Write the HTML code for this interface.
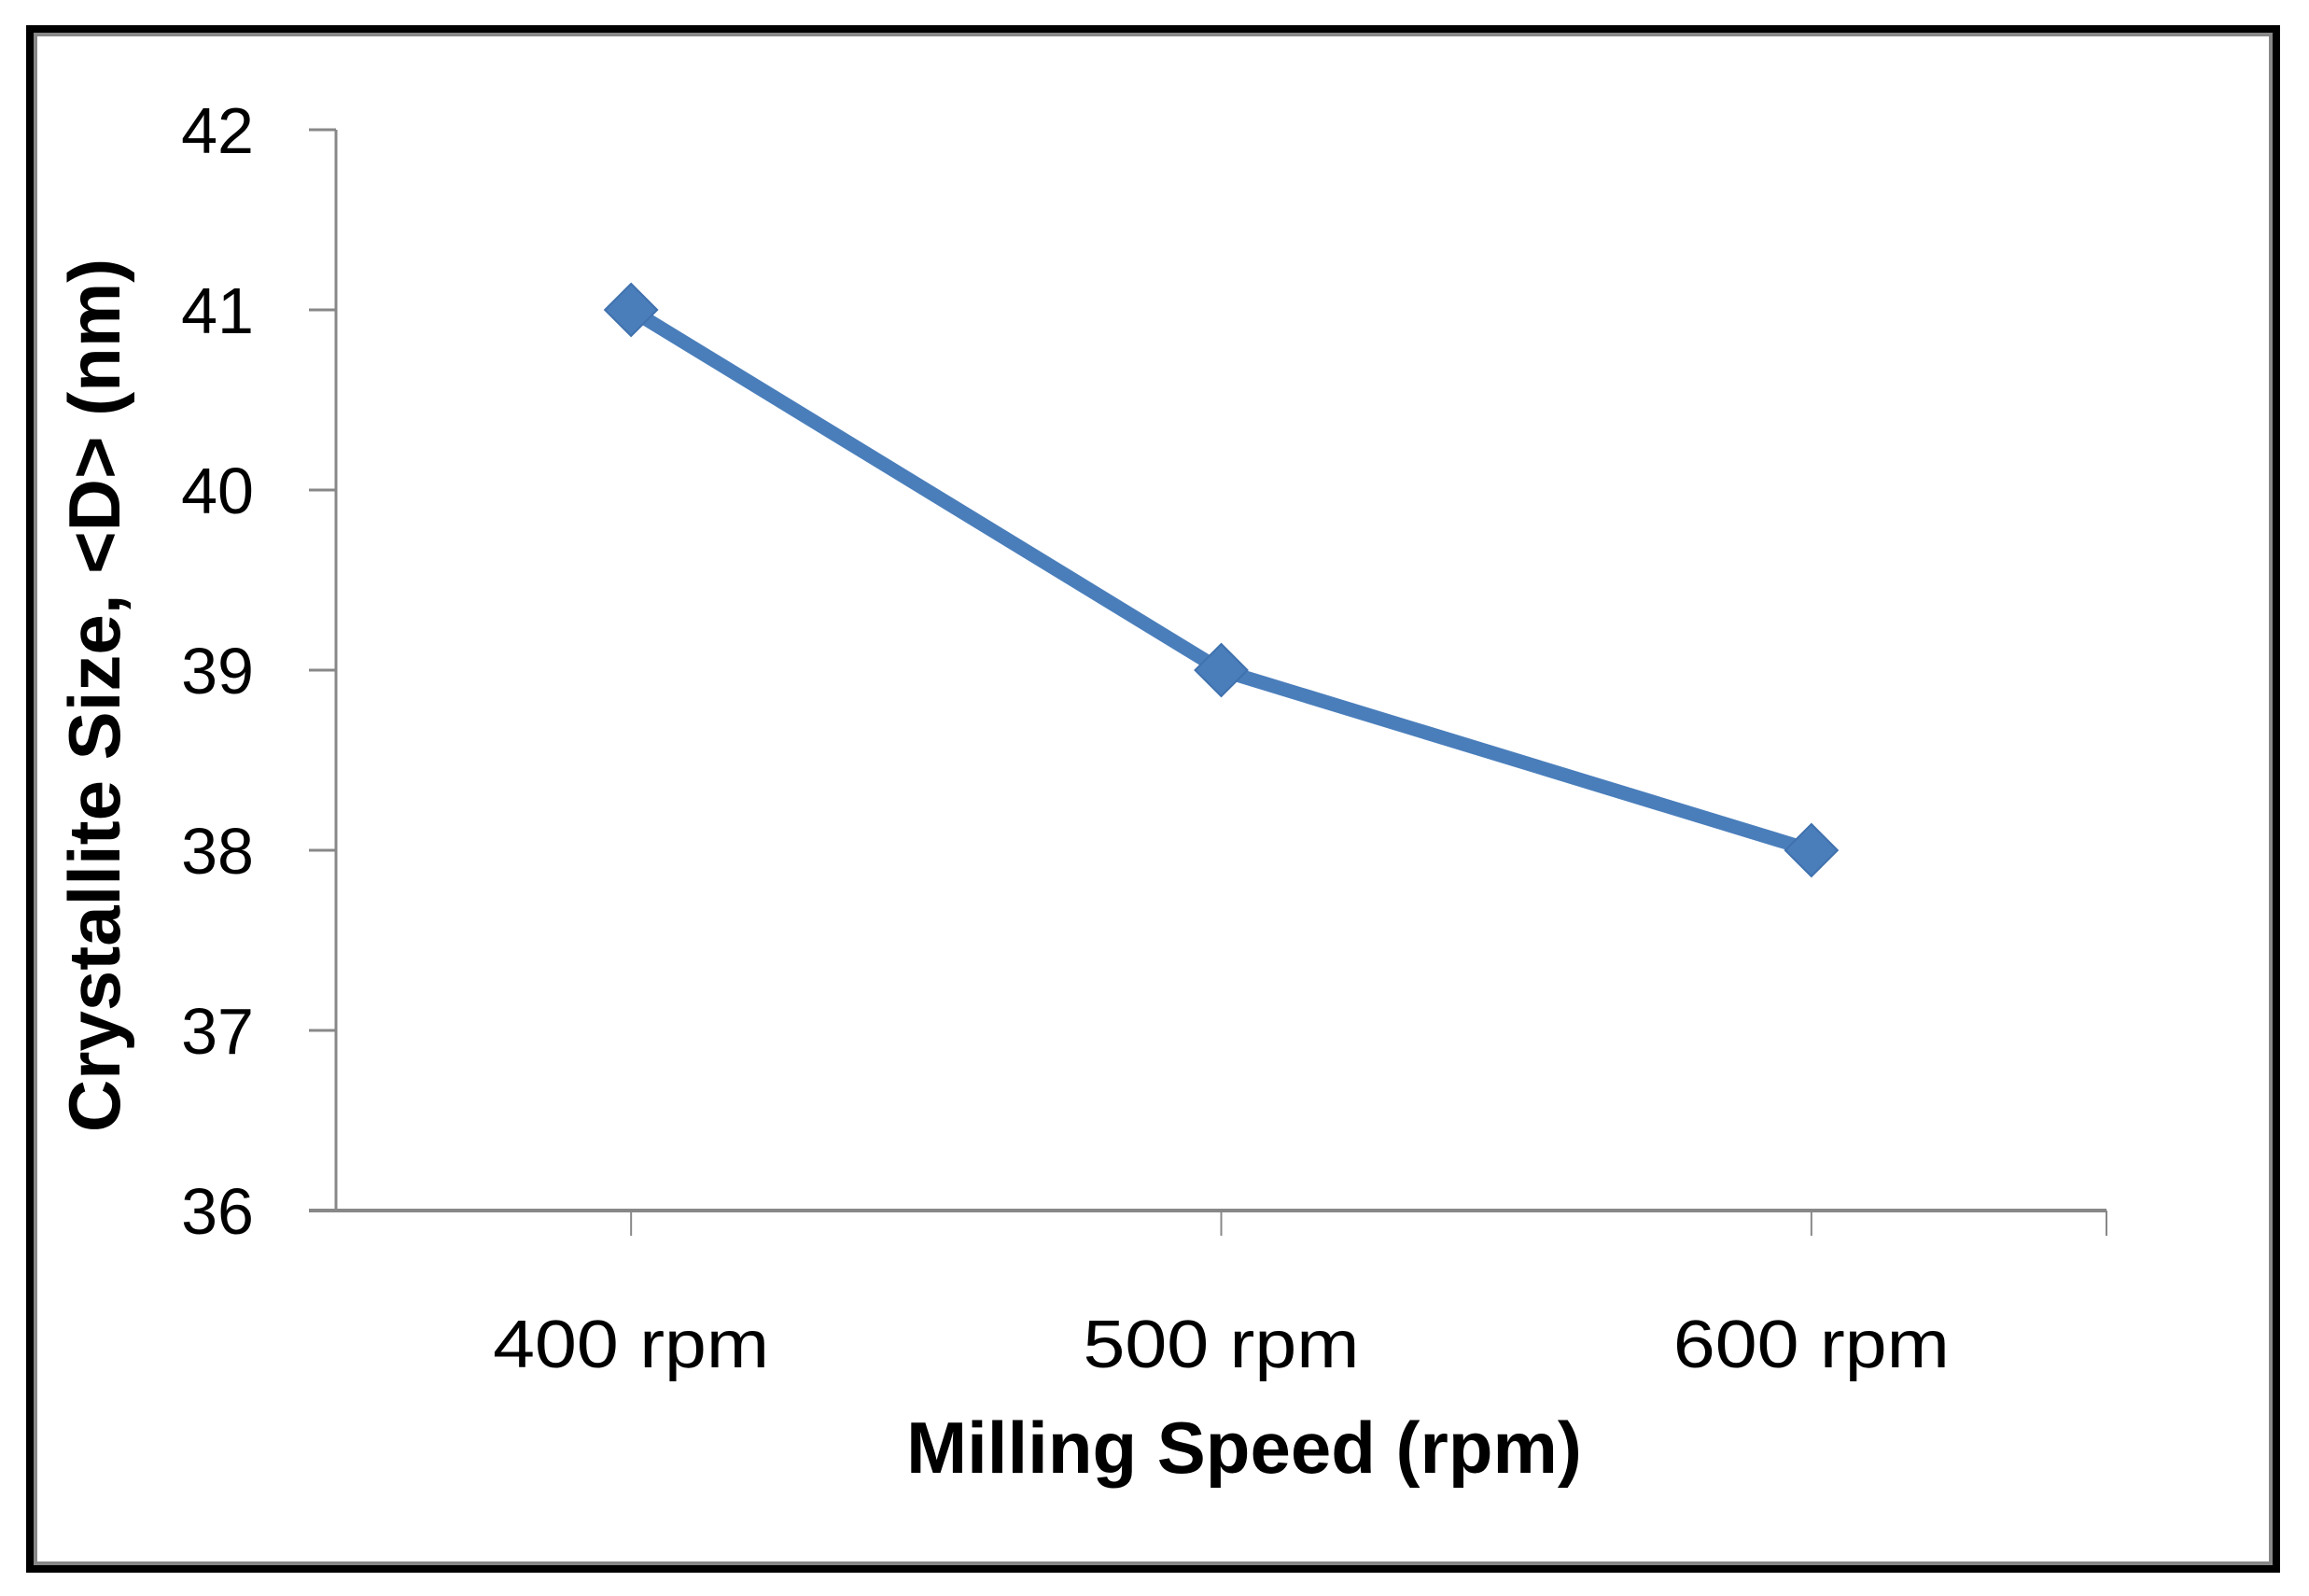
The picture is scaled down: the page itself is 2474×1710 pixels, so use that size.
<!DOCTYPE html>
<html><head><meta charset="utf-8"><style>
html,body{margin:0;padding:0;background:#fff;}
svg{display:block;}
</style></head><body>
<svg id="chart" width="2474" height="1710" viewBox="0 0 2474 1710" xmlns="http://www.w3.org/2000/svg">
<rect x="0" y="0" width="2474" height="1710" fill="#fff"/>
<rect x="32" y="31" width="2407" height="1650" fill="none" stroke="#000" stroke-width="8"/>
<rect x="38" y="37" width="2395" height="1638" fill="none" stroke="#888" stroke-width="4"/>
<g id="axes"></g>
<g id="series"></g>
<text x="1333" y="1578" text-anchor="middle" font-family="'Liberation Sans Narrow','Liberation Sans',sans-serif" font-weight="bold" font-size="78" fill="#000">Milling Speed (rpm)</text>
<text x="0" y="0" transform="translate(128,745) rotate(-90)" text-anchor="middle" font-family="'Liberation Sans Narrow','Liberation Sans',sans-serif" font-weight="bold" font-size="78" fill="#000">Crystallite Size, &lt;D&gt; (nm)</text>
</svg>
<script>
const categories = ["400 rpm","500 rpm","600 rpm"];
const values = [41, 39, 38];
const yTicks = [36,37,38,39,40,41,42];

const NS="http://www.w3.org/2000/svg";
const X0=360, X1=2257, Y0=1297, Y1=139, yMin=36, yMax=42;
const band=(X1-X0)/categories.length;
const xPos=i=>X0+band*(i+0.5);
const yPos=v=>Y0-(v-yMin)/(yMax-yMin)*(Y0-Y1);
const axes=document.getElementById('axes'), ser=document.getElementById('series');
function mk(tag,attrs,parent){const e=document.createElementNS(NS,tag);for(const k in attrs)e.setAttribute(k,attrs[k]);parent.appendChild(e);return e;}

const ya=mk('line',{x1:X0,y1:Y1,x2:X0,y2:Y0,stroke:'#888','stroke-width':3},axes);


yTicks.forEach(t=>{
  const y=yPos(t);
  const tk=mk('line',{x1:X0-29,y1:y,x2:X0,y2:y,stroke:'#888','stroke-width':3},axes);
  
  
  const lb=mk('text',{x:272,y:y+25,'text-anchor':'end','font-family':"'Liberation Sans Narrow','Liberation Sans',sans-serif",'font-size':70,fill:'#000'},axes);
  lb.textContent=t;
  
  
});
const xa=mk('line',{x1:X0-29,y1:Y0,x2:X1,y2:Y0,stroke:'#888','stroke-width':4},axes);


for(let i=0;i<categories.length;i++){
  const x=xPos(i);
  const tk=mk('line',{x1:x,y1:Y0,x2:x,y2:Y0+27,stroke:'#888','stroke-width':2},axes);
  
  
  const lb=mk('text',{x:x,y:1465,'text-anchor':'middle','font-family':"'Liberation Sans Narrow','Liberation Sans',sans-serif",'font-size':72,fill:'#000',textLength:296,lengthAdjust:'spacingAndGlyphs'},axes);
  lb.textContent=categories[i];
  
  
}
const endTk=mk('line',{x1:X1,y1:Y0,x2:X1,y2:Y0+27,stroke:'#888','stroke-width':2},axes);



const pts=values.map((v,i)=>xPos(i)+','+yPos(v)).join(' ');
const line=mk('polyline',{points:pts,fill:'none',stroke:'#4a7ebb','stroke-width':15,'stroke-linejoin':'round'},ser);


values.forEach((v,i)=>{
  const x=xPos(i),y=yPos(v),r=28;
  const m=mk('polygon',{points:`${x},${y-r} ${x+r},${y} ${x},${y+r} ${x-r},${y}`,fill:'#4a7ebb',stroke:'#3f71ad','stroke-width':2},ser);
  
  
});
</script>
</body></html>
